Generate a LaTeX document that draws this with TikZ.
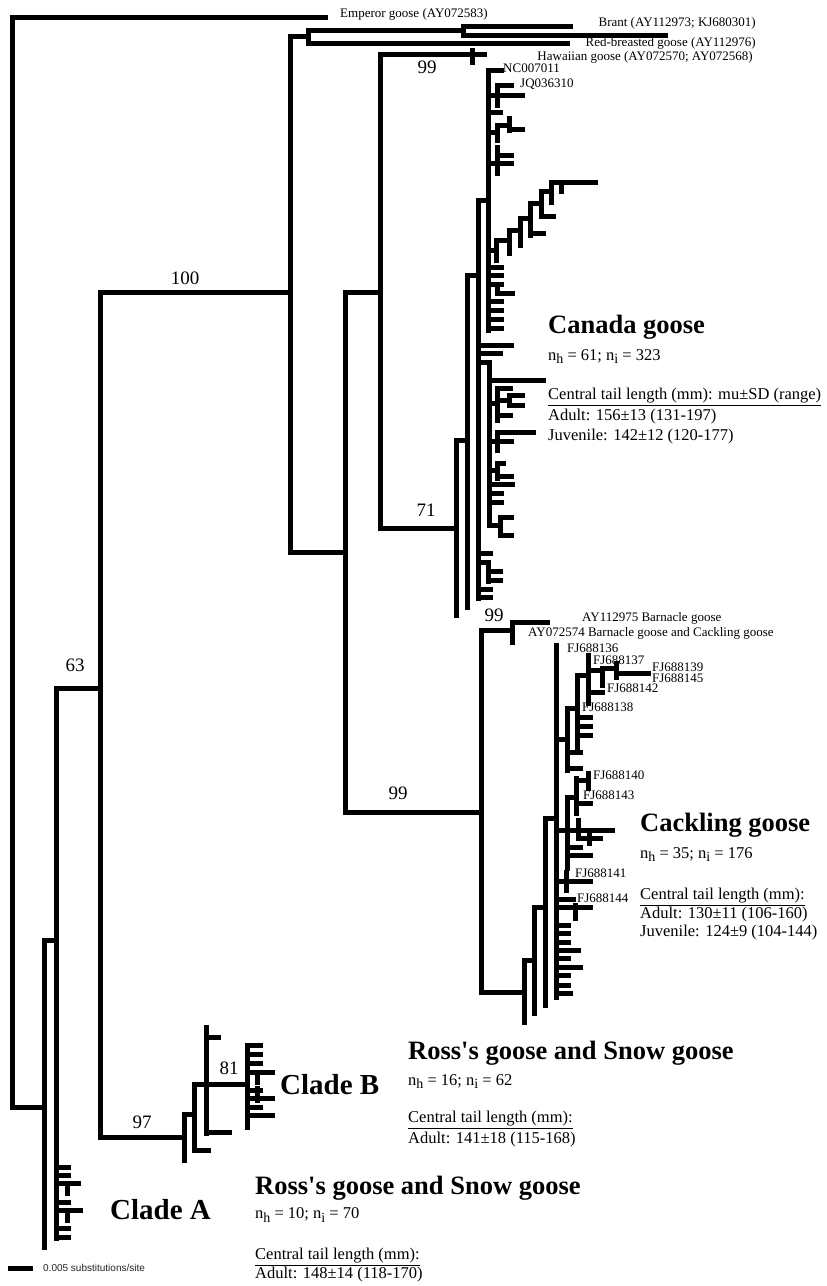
\documentclass[tikz,border=0pt]{standalone}
\usepackage{fontspec}
\setmainfont{Liberation Serif}
\newfontfamily\sansfam{Liberation Sans}
\newcommand\nsub[1]{\raisebox{-0.4ex}{\fontsize{14}{14}\selectfont #1}}
\newcommand\apos{\textquotesingle}
\tikzset{
  br/.style={line width=5pt, line cap=rect, black},
  lab/.style={font=\fontsize{13}{13}\selectfont, inner sep=0pt, anchor=west},
  labr/.style={font=\fontsize{13}{13}\selectfont, inner sep=0pt, anchor=east},
  boot/.style={font=\fontsize{19}{19}\selectfont, inner sep=0pt},
  ttl/.style={font=\bfseries\fontsize{26.5}{26.5}\selectfont, inner sep=0pt, anchor=west},
  clade/.style={font=\bfseries\fontsize{29}{29}\selectfont, inner sep=0pt, anchor=west},
  info/.style={font=\fontsize{16.5}{16.5}\selectfont, inner sep=0pt, anchor=west},
}
\begin{document}
\begin{tikzpicture}[x=1pt,y=-1pt]
\path[use as bounding box, fill=white] (0,0) rectangle (827,1286);
% ---------- backbone ----------
\draw[br]
 (12,17)--(12,1107) (12,17)--(325,17) (12,1107)--(44,1107)
 (44,940)--(44,1247) (44,940)--(56,940)
 (56,688)--(56,1238) (56,688)--(100,688)
 (100,292)--(100,1137) (100,292)--(290,292)
 (290,36)--(290,552) (290,36)--(308,36)
 (308,30)--(308,43) (308,30)--(463,30) (308,43)--(567,43)
 (463,26)--(463,35) (463,26)--(570,26) (463,35)--(665,35)
 (290,552)--(345,552)
 (345,292)--(345,812) (345,292)--(380,292)
 (380,54)--(380,528) (380,54)--(484,54) (472,50)--(472,62)
 (380,528)--(456,528)
 (345,812)--(481,812);
% ---------- Canada goose clade ----------
\draw[br]
 (456,440)--(456,615) (456,440)--(467,440)
 (467,275)--(467,607) (467,275)--(478,275)
 (478,200)--(478,598) (478,200)--(488,200)
 (488,70)--(488,330) (488,70)--(501,70)
 (497,85)--(497,105) (497,85)--(511,85) (488,95)--(522,95)
 (488,112)--(500,112)
 (488,132)--(497,132) (497,125)--(497,140) (497,125)--(509,125) (509,118)--(509,130) (509,129)--(522,129)
 (497,147)--(497,173) (497,155)--(511,155) (488,163)--(511,163)
 (488,250)--(496,250) (496,240)--(496,260) (496,240)--(509,240)
 (509,230)--(509,253) (509,230)--(520,230)
 (520,218)--(520,245) (520,218)--(530,218)
 (530,203)--(530,235) (530,233)--(543,233) (530,203)--(541,203)
 (541,191)--(541,216) (541,216)--(553,216) (541,191)--(551,191)
 (551,182)--(551,202) (551,182)--(595,182) (561,182)--(561,191)
 (488,267)--(501,267) (488,275)--(501,275) (488,284)--(501,284)
 (497,284)--(497,293) (497,293)--(512,293)
 (488,301)--(501,301) (488,310)--(501,310) (488,319)--(501,319) (488,328)--(501,328)
 (478,345)--(511,345) (478,353)--(500,353)
 (478,362)--(489,362) (489,362)--(489,525) (489,380)--(543,380)
 (489,403)--(497,403) (497,388)--(497,420) (497,388)--(510,388)
 (497,400)--(509,400) (509,395)--(509,405) (509,395)--(522,395) (509,405)--(522,405)
 (497,415)--(510,415)
 (497,432)--(497,450) (497,432)--(533,432) (489,441)--(511,441)
 (497,463)--(497,478) (489,470)--(497,470) (497,463)--(503,463) (497,476)--(511,476)
 (489,484)--(512,484) (489,493)--(501,493) (489,502)--(501,502)
 (489,525)--(500,525) (500,517)--(500,535) (500,517)--(511,517) (500,535)--(511,535)
 (478,553)--(490,553) (478,562)--(488,562) (488,562)--(488,581)
 (488,571)--(500,571) (488,580)--(500,580) (478,589)--(490,589) (478,597)--(490,597);
% ---------- Cackling goose clade ----------
\draw[br]
 (481,630)--(481,992)
 (481,630)--(512,630) (512,622)--(512,642) (512,622)--(547,622)
 (481,992)--(524,992)
 (524,960)--(524,1022) (524,960)--(534,960)
 (534,907)--(534,1013) (534,907)--(545,907)
 (545,818)--(545,1005) (545,818)--(556,818)
 (556,645)--(556,997)
 (556,739)--(567,739) (567,708)--(567,770) (567,708)--(577,708)
 (577,675)--(577,747) (577,675)--(588,675)
 (588,655)--(588,703) (588,670)--(602,670)
 (602,668)--(602,685) (602,668)--(616,668)
 (616,663)--(616,677) (616,673)--(648,673)
 (588,692)--(602,692)
 (577,717)--(590,717) (577,726)--(590,726) (577,735)--(590,735)
 (567,752)--(580,752) (567,768)--(580,768)
 (567,797)--(567,868) (567,797)--(576,797)
 (576,778)--(576,813) (576,780)--(588,780) (588,773)--(588,788) (576,803)--(590,803)
 (556,830)--(612,830) (578,820)--(578,838) (578,838)--(600,838) (589,832)--(589,843)
 (567,847)--(580,847) (567,855)--(590,855)
 (556,881)--(590,881) (566,872)--(566,890)
 (556,899)--(573,899)
 (556,907)--(590,907) (575,905)--(575,918)
 (556,925)--(568,925) (556,933)--(568,933) (556,942)--(568,942) (556,950)--(578,950)
 (556,958)--(568,958) (556,967)--(580,967) (556,975)--(568,975) (556,985)--(568,985)
 (556,993)--(570,993);
% ---------- Clade B ----------
\draw[br]
 (100,1137)--(184,1137)
 (184,1114)--(184,1160) (184,1114)--(194,1114)
 (194,1084)--(194,1150) (194,1150)--(208,1150)
 (206,1027)--(206,1133) (206,1037)--(218,1037) (206,1132)--(229,1132)
 (194,1084)--(247,1084)
 (247,1045)--(247,1127)
 (247,1045)--(260,1045) (247,1054)--(260,1054) (247,1063)--(260,1063)
 (247,1072)--(272,1072) (257,1072)--(257,1082)
 (247,1090)--(260,1090) (247,1098)--(272,1098) (257,1088)--(257,1100)
 (247,1107)--(260,1107) (247,1115)--(272,1115);
% ---------- Clade A ----------
\draw[br]
 (56,1167)--(68,1167) (56,1175)--(68,1175) (56,1183)--(78,1183) (67,1183)--(67,1193)
 (56,1202)--(68,1202) (56,1210)--(80,1210) (67,1210)--(67,1220)
 (56,1228)--(68,1228) (56,1237)--(68,1237);
% ---------- scale bar ----------
\draw[br, line cap=butt] (8,1268)--(33,1268);
\node[inner sep=0pt, anchor=west, font=\sansfam\fontsize{10}{10}\selectfont, text=black!85] (scale) at (43,1268) {0.005 substitutions/site};
% ---------- leaf labels ----------
\node[lab] (emp) at (340,14) {Emperor goose (AY072583)};
\node[labr] (brant) at (756,23) {Brant (AY112973; KJ680301)};
\node[labr] (redb) at (756,43) {Red-breasted goose (AY112976)};
\node[labr] (haw) at (753,57) {Hawaiian goose (AY072570; AY072568)};
\node[lab] (nc) at (503,68) {NC007011};
\node[lab] (jq) at (520,84) {JQ036310};
\node[lab] (ay1) at (582,618) {AY112975 Barnacle goose};
\node[lab] (ay2) at (528,633) {AY072574 Barnacle goose and Cackling goose};
\node[lab] (f136) at (567,648) {FJ688136};
\node[lab] (f137) at (593,660) {FJ688137};
\node[lab] (f139) at (652,667) {FJ688139};
\node[lab] (f145) at (652,678) {FJ688145};
\node[lab] (f142) at (607,688) {FJ688142};
\node[lab] (f138) at (582,707) {FJ688138};
\node[lab] (f140) at (593,775) {FJ688140};
\node[lab] (f143) at (583,795) {FJ688143};
\node[lab] (f141) at (575,873) {FJ688141};
\node[lab] (f144) at (577,898) {FJ688144};
% ---------- bootstrap values ----------
\node[boot] (b100) at (185,278) {100};
\node[boot] (b99a) at (427,67) {99};
\node[boot] (b71) at (426,510) {71};
\node[boot] (b99b) at (494,615) {99};
\node[boot] (b99c) at (398,793) {99};
\node[boot] (b63) at (75,665) {63};
\node[boot] (b97) at (142,1122) {97};
\node[boot] (b81) at (229,1068) {81};
% ---------- Canada goose ----------
\node[ttl] (cg) at (548,327) {Canada goose};
\node[info] (cgn) at (548,357) {n\nsub{h} = 61; n\nsub{i} = 323};
\node[info] (cgc) at (548,397) {\underline{Central tail length (mm): mu±SD (range)}};
\node[info] (cga) at (548,417) {Adult: 156±13 (131-197)};
\node[info] (cgj) at (548,437) {Juvenile: 142±12 (120-177)};
% ---------- Cackling goose ----------
\node[ttl] (ck) at (640,825) {Cackling goose};
\node[info] (ckn) at (640,855) {n\nsub{h} = 35; n\nsub{i} = 176};
\node[info] (ckc) at (640,897) {\underline{Central tail length (mm):}};
\node[info] (cka) at (640,915) {Adult: 130±11 (106-160)};
\node[info] (ckj) at (640,933) {Juvenile: 124±9 (104-144)};
% ---------- Clade B ----------
\node[clade] (cb) at (280,1085) {Clade B};
\node[ttl] (rb) at (408,1053) {Ross\apos s goose and Snow goose};
\node[info] (rbn) at (408,1082) {n\nsub{h} = 16; n\nsub{i} = 62};
\node[info] (rbc) at (408,1120) {\underline{Central tail length (mm):}};
\node[info] (rba) at (408,1140) {Adult: 141±18 (115-168)};
% ---------- Clade A ----------
\node[clade] (ca) at (110,1210) {Clade A};
\node[ttl] (ra) at (255,1188) {Ross\apos s goose and Snow goose};
\node[info] (ran) at (255,1215) {n\nsub{h} = 10; n\nsub{i} = 70};
\node[info] (rac) at (255,1257) {\underline{Central tail length (mm):}};
\node[info] (raa) at (255,1275) {Adult: 148±14 (118-170)};
\end{tikzpicture}
\end{document}
